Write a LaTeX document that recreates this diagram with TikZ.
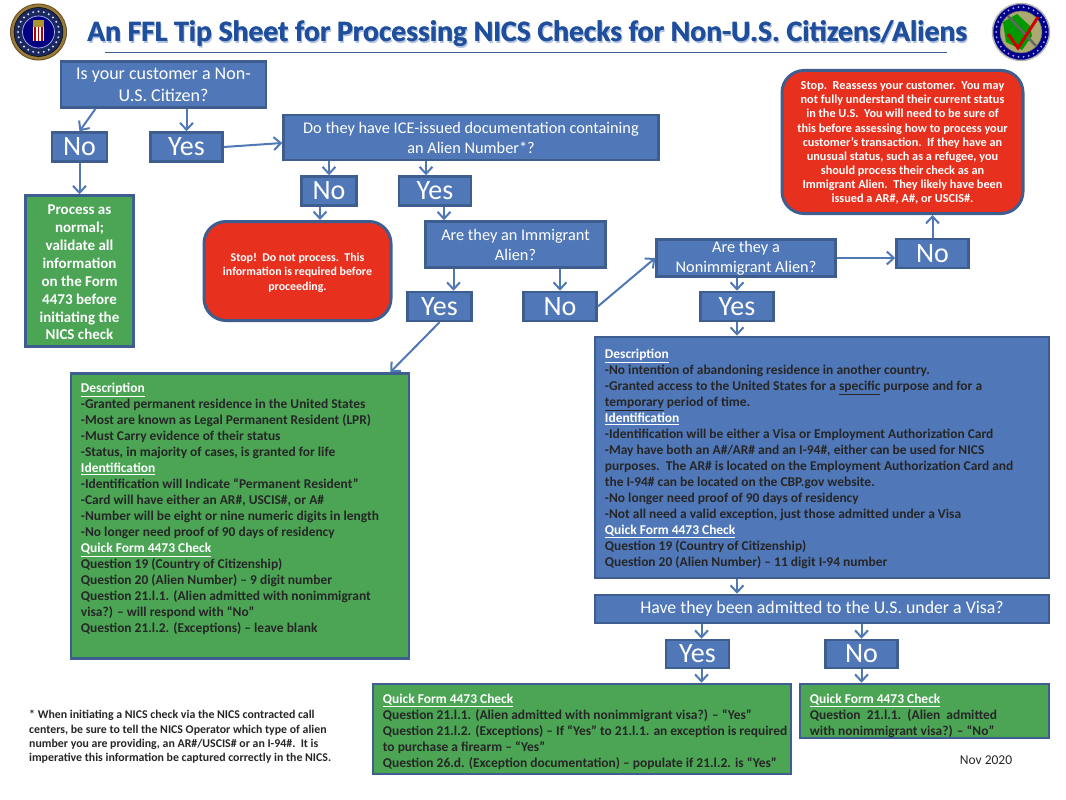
\documentclass[tikz,border=0pt]{standalone}
\usepackage{fontspec}
\setmainfont{Carlito}
\usetikzlibrary{arrows.meta}
\definecolor{boxblue}{HTML}{5078B8}
\definecolor{edgeblue}{HTML}{3F5E90}
\definecolor{arrowblue}{HTML}{4F78B4}
\definecolor{boxgreen}{HTML}{4BA555}
\definecolor{boxred}{HTML}{E8301F}
\definecolor{titleblue}{HTML}{1F4E9C}
\definecolor{sealnavy}{HTML}{1B2A5C}
\definecolor{sealgold}{HTML}{9A7B3A}
\tikzset{
  bluebox/.style={draw=edgeblue, line width=2.5pt, fill=boxblue, text=white, align=center, inner sep=0pt},
  greenbox/.style={draw=edgeblue, line width=2.5pt, fill=boxgreen, inner sep=0pt},
  bodybox/.style={draw=edgeblue, line width=2.5pt, fill=boxblue, inner sep=0pt},
  redbox/.style={draw=edgeblue, line width=3pt, fill=boxred, rounded corners=22pt, inner sep=0pt},
  redtext/.style={text=white, align=center, inner sep=0pt},
  asktext/.style={font=\fontsize{18}{22}\selectfont},
  asksmall/.style={font=\fontsize{16.3}{20}\selectfont},
  answer/.style={font=\fontsize{28}{30}\selectfont},
  bodytext/.style={anchor=north west, align=left, inner sep=0pt, font=\fontsize{13.45}{16}\selectfont\bfseries, text=black!85},
  titletext/.style={font=\fontsize{29.6}{32}\selectfont\bfseries},
  flow/.style={draw=arrowblue, line width=2pt, -{Straight Barb[length=7pt,width=13pt]}}
}
\newcommand{\headline}[1]{\textcolor{white}{\underline{#1}}}
\newcommand{\titlewords}{An FFL Tip Sheet for Processing NICS Checks for Non-U.S. Citizens/Aliens}
\begin{document}
\begin{tikzpicture}[x=1pt,y=-1pt]
\useasboundingbox (0,0) rectangle (1066,800);
% title
\node[titletext, text=titleblue!35] (titleshade) at (528.5,35.5) {\titlewords};
\node[titletext, text=titleblue] (titleback) at (527,33.5) {\titlewords};
\node[titletext, text=titleblue] (title) at (527.6,33.5) {\titlewords};
\draw[edgeblue, line width=1pt] (105,53) -- (947,53);
% seals
\draw[fill=sealgold, draw=sealgold!70!black, line width=1pt] (38.5,32) circle [radius=28];
\draw[fill=sealnavy, draw=black, line width=.5pt] (38.5,32) circle [radius=24.5];
\foreach \a in {0,15,...,345}
  \draw[fill=white!85!blue, draw=none] (38.5,32) ++(\a:-20.5) circle [radius=1.1];
\draw[fill=blue!50!black, draw=white!70!blue, line width=.7pt] (38.5,32) circle [radius=16];
\draw[fill=sealgold!80!yellow, draw=none] (33,20) rectangle (44,27);
\draw[fill=white, draw=none] (33,27) rectangle (44,41);
\foreach \a in {35,38.5,42}
  \draw[red!70!black, line width=1.4pt] (\a,27) -- (\a,41);
\draw[fill=blue!55!black, draw=gray!60, line width=1.5pt] (1021,32) circle [radius=28.5];
\foreach \a in {0,12,...,348}
  \draw[fill=white!70!blue, draw=none] (1021,32) ++(\a:-25) circle [radius=1];
\draw[fill=gray!55!olive!75, draw=black!60, line width=.5pt] (1021,32) circle [radius=21];
\draw[fill=green!60!black, draw=none] (1003,22) -- (1017,14) -- (1030,26) -- (1032,36) -- (1022,50) -- (1006,42) -- cycle;
\draw[black!60, line width=2.5pt] (1008,16) -- (1036,46);
\draw[red!80!black, line width=3pt] (1008,34) -- (1018,48) -- (1038,17);
% question boxes
\node[bluebox, asktext, minimum width=205, minimum height=46] (citizen) at (163.5,84.5) {Is your customer a Non-\\U.S. Citizen?};
\node[bluebox, answer, minimum width=55, minimum height=29] (citizenno) at (79.5,147) {No};
\node[bluebox, answer, minimum width=72, minimum height=29] (citizenyes) at (186.5,147) {Yes};
\node[bluebox, asksmall, minimum width=375, minimum height=45] (ice) at (471,137.5) {Do they have ICE-issued documentation containing\\an Alien Number*?};
\node[greenbox, minimum width=108, minimum height=151] (normal) at (79.5,271) {};
\node[text=white, align=center, inner sep=0pt, font=\fontsize{15}{17.9}\selectfont\bfseries] (normaltext) at (79.5,272.5) {Process as\\normal;\\validate all\\information\\on the Form\\4473 before\\initiating the\\NICS check};
\node[bluebox, answer, minimum width=55, minimum height=29] (iceno) at (329,191) {No};
\node[bluebox, answer, minimum width=72, minimum height=29] (iceyes) at (435,191) {Yes};
\node[redbox, minimum width=187, minimum height=99] (stopice) at (297.5,271) {};
\node[redtext, font=\fontsize{11.9}{14.4}\selectfont\bfseries] (stopicetext) at (297.5,272.5) {Stop!\ \ Do not process.\ \ This\\information is required before\\proceeding.};
\node[bluebox, asksmall, minimum width=180, minimum height=46] (immigrant) at (515.5,244.5) {Are they an Immigrant\\Alien?};
\node[bluebox, answer, minimum width=64, minimum height=29] (immyes) at (439.5,306.5) {Yes};
\node[bluebox, answer, minimum width=73, minimum height=29] (immno) at (560,306.5) {No};
\node[bluebox, asksmall, minimum width=179, minimum height=37] (nonimm) at (746,258) {Are they a\\Nonimmigrant Alien?};
\node[bluebox, answer, minimum width=72, minimum height=29] (nonno) at (932.5,253.5) {No};
\node[bluebox, answer, minimum width=73, minimum height=29] (nonyes) at (737,306.5) {Yes};
\node[redbox, minimum width=241, minimum height=143] (stopnon) at (902.5,142) {};
\node[redtext, font=\fontsize{12.25}{14.15}\selectfont\bfseries] (stopnontext) at (902.5,143) {Stop.\ \ Reassess your customer.\ \ You may\\not fully understand their current status\\in the U.S.\ \ You will need to be sure of\\this before assessing how to process your\\customer’s transaction.\ \ If they have an\\unusual status, such as a refugee, you\\should process their check as an\\Immigrant Alien.\ \ They likely have been\\issued a AR\#, A\#, or USCIS\#.};
% body boxes
\node[greenbox, minimum width=338, minimum height=285] (immbox) at (240,516) {};
\node[bodytext] (immtext) at ([shift={(11,11)}]immbox.north west) {\headline{Description}\\-Granted permanent residence in the United States\\-Most are known as Legal Permanent Resident (LPR)\\-Must Carry evidence of their status\\-Status, in majority of cases, is granted for life\\\headline{Identification}\\-Identification will Indicate “Permanent Resident”\\-Card will have either an AR\#, USCIS\#, or A\#\\-Number will be eight or nine numeric digits in length\\-No longer need proof of 90 days of residency\\\headline{Quick Form 4473 Check}\\Question 19 (Country of Citizenship)\\Question 20 (Alien Number) – 9 digit number\\Question 21.l.1. (Alien admitted with nonimmigrant\\visa?) – will respond with “No”\\Question 21.l.2. (Exceptions) – leave blank};
\node[bodybox, minimum width=454, minimum height=241] (nonbox) at (822,457.5) {};
\node[bodytext] (nontext) at ([shift={(11,13)}]nonbox.north west) {\headline{Description}\\-No intention of abandoning residence in another country.\\-Granted access to the United States for a \underline{specific} purpose and for a\\\underline{temporary} period of time.\\\headline{Identification}\\-Identification will be either a Visa or Employment Authorization Card\\-May have both an A\#/AR\# and an I-94\#, either can be used for NICS\\purposes.\ \ The AR\# is located on the Employment Authorization Card and\\the I-94\# can be located on the CBP.gov website.\\-No longer need proof of 90 days of residency\\-Not all need a valid exception, just those admitted under a Visa\\\headline{Quick Form 4473 Check}\\Question 19 (Country of Citizenship)\\Question 20 (Alien Number) – 11 digit I-94 number};
\node[bluebox, font=\fontsize{17.8}{20}\selectfont, minimum width=454, minimum height=28] (visa) at (822,609) {Have they been admitted to the U.S. under a Visa?};
\node[bluebox, answer, minimum width=63, minimum height=28] (visayes) at (697.5,654) {Yes};
\node[bluebox, answer, minimum width=72, minimum height=28] (visano) at (861.5,654) {No};
\node[greenbox, minimum width=418, minimum height=90] (yesbox) at (582,729) {};
\node[bodytext] (yestext) at ([shift={(11,11)}]yesbox.north west) {\headline{Quick Form 4473 Check}\\Question 21.l.1. (Alien admitted with nonimmigrant visa?) – “Yes”\\Question 21.l.2. (Exceptions) – If “Yes” to 21.l.1. an exception is required\\to purchase a firearm – “Yes”\\Question 26.d. (Exception documentation) – populate if 21.l.2. is “Yes”};
\node[greenbox, minimum width=249, minimum height=54] (nobox) at (924.5,711) {};
\node[bodytext] (notext) at ([shift={(11,11)}]nobox.north west) {\headline{Quick Form 4473 Check}\\Question\ \ 21.l.1.\ \ (Alien\ \ admitted\\with nonimmigrant visa?) – “No”};
% free text
\node[anchor=north west, align=left, inner sep=0pt, font=\fontsize{11.85}{14.4}\selectfont\bfseries, text=black!85] (footnote) at (29,710) {* When initiating a NICS check via the NICS contracted call\\centers, be sure to tell the NICS Operator which type of alien\\number you are providing, an AR\#/USCIS\# or an I-94\#.\ \ It is\\imperative this information be captured correctly in the NICS.};
\node[font=\fontsize{13.5}{15}\selectfont, text=black!85] (issued) at (986,760) {Nov 2020};
% connectors
\draw[flow] ([xshift=-68]citizen.south) -- (citizenno.north);
\draw[flow] ([xshift=23]citizen.south) -- (citizenyes.north);
\draw[flow] (citizenno.south) -- (normal.north);
\draw[flow] (citizenyes.east) -- ([yshift=-5.5]ice.west);
\draw[flow] (ice.south -| iceno.north) -- (iceno.north);
\draw[flow] ([xshift=-9]iceyes.north |- ice.south) -- ([xshift=-9]iceyes.north);
\draw[flow] ([xshift=-9]iceno.south) -- ([xshift=-9]iceno.south |- stopice.north);
\draw[flow] ([xshift=9]iceyes.south) -- ([xshift=9]iceyes.south |- immigrant.north);
\draw[flow] ([xshift=-62]immigrant.south) -- ([xshift=-62]immigrant.south |- immyes.north);
\draw[flow] (immigrant.south -| immno.north) -- (immno.north);
\draw[flow] (immno.east) -- (nonimm.west);
\draw[flow] (nonimm.east) -- (nonimm.east -| nonno.west);
\draw[flow] (nonno.north) -- (nonno.north |- stopnon.south);
\draw[flow] (nonimm.south -| nonyes.north) -- (nonyes.north);
\draw[flow] (nonyes.south) -- (nonyes.south |- nonbox.north);
\draw[flow] (immyes.south) -- ([xshift=-20]immbox.north east);
\draw[flow] (nonbox.south -| nonyes.south) -- (visa.north -| nonyes.south);
\draw[flow] ([xshift=4]visayes.north |- visa.south) -- ([xshift=4]visayes.north);
\draw[flow] (visa.south -| visano.north) -- (visano.north);
\draw[flow] ([xshift=4]visayes.south) -- ([xshift=4]visayes.south |- yesbox.north);
\draw[flow] (visano.south) -- (visano.south |- nobox.north);
\end{tikzpicture}
\end{document}
